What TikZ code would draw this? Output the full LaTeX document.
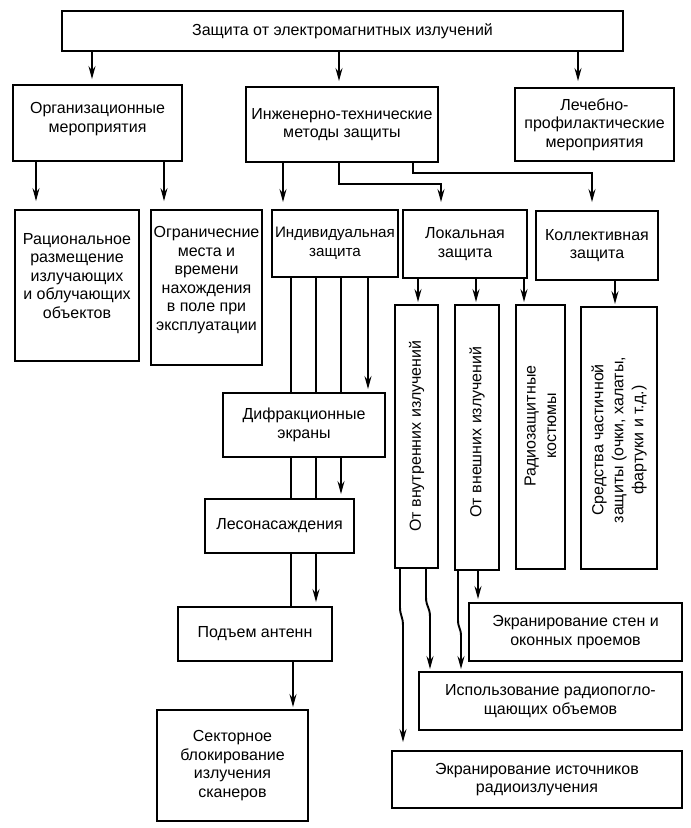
\documentclass[tikz,border=0pt]{standalone}
\usepackage{fontspec}
\setmainfont{Liberation Sans}
\usetikzlibrary{arrows.meta,calc}
\begin{document}
\begin{tikzpicture}[x=1pt,y=-1pt,
  box/.style={draw, line width=1.9pt, inner sep=0pt, align=center, font=\fontsize{16}{18.5}\selectfont},
  lbl/.style={inner sep=0pt, align=center, font=\fontsize{16}{18.5}\selectfont},
  ln/.style={line width=1.9pt},
  thinln/.style={line width=1.1pt},
  arr/.style={-{Stealth[length=13pt,width=7pt,inset=4.5pt]}}]
\useasboundingbox (0,0) rectangle (691,828);

% boxes
\node[box, minimum width=561, minimum height=40] (top) at (342.5,31) {Защита от электромагнитных излучений};
\node[box, minimum width=169, minimum height=76] (org) at (97.5,123) {};
\node[lbl] (orgT) at (97.5,119) {Организационные\\мероприятия};
\node[box, minimum width=192, minimum height=75] (inzh) at (342,124.5) {Инженерно-технические\\методы защиты};
\node[box, minimum width=159, minimum height=73] (lech) at (594.5,124.5) {Лечебно-\\профилактические\\мероприятия};

\node[box, minimum width=124, minimum height=151] (rac) at (77,285.5) {};
\node[lbl] (racT) at (77,276) {Рациональное\\размещение\\излучающих\\и облучающих\\объектов};
\node[box, minimum width=111, minimum height=155] (ogr) at (206.5,287.5) {};
\node[lbl] (ogrT) at (206.5,280) {Ограничесние\\места и\\времени\\нахождения\\в поле при\\эксплуатации};
\node[box, minimum width=126, minimum height=67, font=\fontsize{15.2}{18.5}\selectfont] (ind) at (335,243.5) {Индивидуальная\\защита};
\node[box, minimum width=124, minimum height=68] (lok) at (465,244) {Локальная\\защита};
\node[box, minimum width=122, minimum height=69] (kol) at (597,245.5) {Коллективная\\защита};

\node[box, minimum width=162, minimum height=64] (dif) at (304,425) {Дифракционные\\экраны};
\node[box, minimum width=149, minimum height=54] (les) at (279.5,526) {Лесонасаждения};
\node[box, minimum width=154, minimum height=54] (pod) at (255,634) {Подъем антенн};
\node[box, minimum width=151, minimum height=111] (sek) at (232.5,765.5) {Секторное\\блокирование\\излучения\\сканеров};

\node[box, minimum width=43, minimum height=263] (vin) at (416.5,436.5) {};
\node[lbl, rotate=90] (vinT) at (416.5,436) {От внутренних излучений};
\node[box, minimum width=44, minimum height=265] (vne) at (477,437.5) {};
\node[lbl, rotate=90] (vneT) at (477,432) {От внешних излучений};
\node[box, minimum width=49, minimum height=264] (rad) at (540.5,437) {};
\node[lbl, rotate=90, font=\fontsize{16}{20.5}\selectfont] (radT) at (540.5,426) {Радиозащитные\\костюмы};
\node[box, minimum width=76, minimum height=262] (sred) at (619,438) {};
\node[lbl, rotate=90, font=\fontsize{16}{20}\selectfont] (sredT) at (619,440) {Средства частичной\\защиты (очки, халаты,\\фартуки и т.д.)};

\node[box, minimum width=213, minimum height=58] (ekst) at (575.5,632) {Экранирование стен и\\оконных проемов};
\node[box, minimum width=263, minimum height=58] (isp) at (550.5,701) {Использование радиопогло-\\щающих объемов};
\node[box, minimum width=290, minimum height=57] (ekis) at (537,779.5) {Экранирование источников\\радиоизлучения};

% column coordinates
\coordinate (x92) at (92,0);
\coordinate (x339) at (339,0);
\coordinate (x578) at (578,0);
\coordinate (x36) at (36,0);
\coordinate (x164) at (164,0);
\coordinate (x283) at (283,0);
\coordinate (x413) at (413,0);
\coordinate (x441) at (441,0);
\coordinate (x592) at (592,0);
\coordinate (x291) at (291,0);
\coordinate (x293) at (293,0);
\coordinate (x316) at (316,0);
\coordinate (x341) at (341,0);
\coordinate (x368) at (368,0);
\coordinate (x418) at (418,0);
\coordinate (x476) at (476,0);
\coordinate (x524) at (524,0);
\coordinate (x615) at (615,0);
\coordinate (x400) at (400,0);
\coordinate (x403) at (403,0);
\coordinate (x426) at (426,0);
\coordinate (x430) at (430,0);
\coordinate (x458) at (458,0);
\coordinate (x461) at (461,0);
\coordinate (x478) at (478,0);

% top level
\draw[ln,arr,shorten >=5pt] (top.south -| x92) -- (org.north -| x92);
\draw[ln,arr,shorten >=5pt] (top.south -| x339) -- (inzh.north -| x339);
\draw[ln,arr,shorten >=6pt] (top.south -| x578) -- (lech.north -| x578);

% organisational
\draw[thinln,arr,shorten >=8pt] (org.south -| x36) -- (rac.north -| x36);
\draw[thinln,arr,shorten >=8pt] (org.south -| x164) -- (ogr.north -| x164);

% engineering
\draw[ln,arr,shorten >=7pt] (inzh.south -| x283) -- (ind.north -| x283);
\draw[ln,arr,shorten >=7pt] (inzh.south -| x339) -- (339,184) -- (441,184) -- (lok.north -| x441);
\draw[ln,arr,shorten >=8pt] (inzh.south -| x413) -- (413,173) -- (592,173) -- (kol.north -| x592);

% individual chain
\draw[ln] (ind.south -| x291) -- (dif.north -| x291);
\draw[ln] (ind.south -| x316) -- (dif.north -| x316);
\draw[ln] (ind.south -| x341) -- (dif.north -| x341);
\draw[ln,arr,shorten >=3pt] (ind.south -| x368) -- (dif.north -| x368);
\draw[ln] (dif.south -| x291) -- (les.north -| x291);
\draw[ln] (dif.south -| x316) -- (les.north -| x316);
\draw[ln,arr,shorten >=4pt] (dif.south -| x341) -- (les.north -| x341);
\draw[ln] (les.south -| x291) -- (pod.north -| x291);
\draw[ln,arr,shorten >=4pt] (les.south -| x316) -- (pod.north -| x316);
\draw[ln,arr,shorten >=2pt] (pod.south -| x293) -- (sek.north -| x293);

% local and collective
\draw[ln,arr,shorten >=2pt] (lok.south -| x418) -- (vin.north -| x418);
\draw[ln,arr,shorten >=2pt] (lok.south -| x476) -- (vne.north -| x476);
\draw[ln,arr,shorten >=2pt] (lok.south -| x524) -- (rad.north -| x524);
\draw[ln,arr,shorten >=2pt] (kol.south -| x615) -- (sred.north -| x615);

% bottom connectors
\draw[ln,arr,shorten >=8pt] (vin.south -| x400) -- (400,607) .. controls (400,616) and (403,616) .. (403,626) -- (ekis.north -| x403);
\draw[ln,arr,shorten >=2pt] (vin.south -| x426) -- (426,597) .. controls (426,607) and (430,607) .. (430,617) -- (isp.north -| x430);
\draw[ln,arr,shorten >=2pt] (vne.south -| x458) -- (458,620) .. controls (458,628) and (461,628) .. (461,636) -- (isp.north -| x461);
\draw[ln,arr,shorten >=3pt] (vne.south -| x478) -- (ekst.north -| x478);
\end{tikzpicture}
\end{document}
